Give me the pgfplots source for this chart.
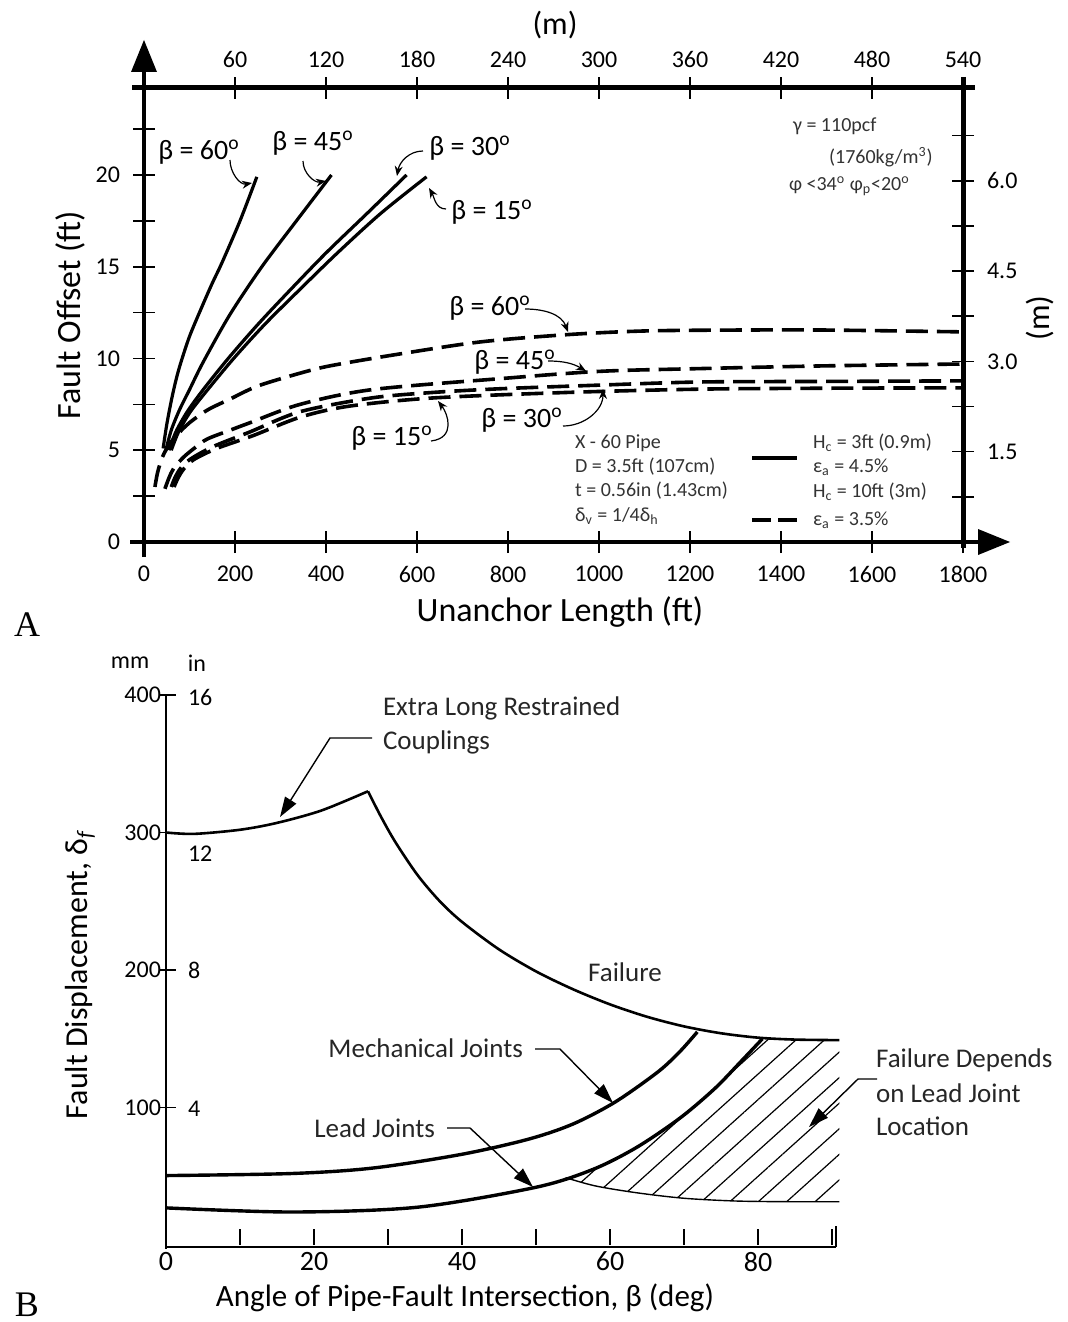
\documentclass[border=0pt]{standalone}
\usepackage{fontspec}
\setmainfont{Carlito}
\newfontfamily\serif{Liberation Serif}
\usepackage{pgfplots}
\pgfplotsset{compat=1.18}
\usetikzlibrary{arrows.meta,patterns.meta}

\newcommand{\fs}[1]{\fontsize{#1}{#1}\selectfont}
\newcommand{\dg}{\textsuperscript{o}}

\begin{document}
\begin{tikzpicture}
\path[use as bounding box] (0,0) rectangle (533.5pt,-661pt);

% ---------------- panel A ----------------
\begin{axis}[
    at={(72pt,-271pt)}, anchor=south west, scale only axis,
    width=409.5pt, height=227pt,
    xmin=0, xmax=1800, ymin=0, ymax=24.74,
    axis line style={draw=none}, clip=false,
    xtick={0,200,...,1800}, xtick pos=left,
    ytick={0,5,...,20}, minor ytick={2.5,7.5,12.5,17.5,22.5}, ytick pos=left,
    tick align=center, major tick length=11pt, minor tick length=11pt,
    tick style={black, line width=0.8pt},
    tick label style={font=\fs{12}},
    xticklabel style={yshift=-3pt},
    yticklabel style={xshift=-3pt},
    /pgf/number format/assume math mode=true,
    /pgf/number format/1000 sep={},
]
% Hc = 3 ft, solid
\addplot[black, line width=1.6pt, smooth] coordinates {
(42,5.1) (50,6.4) (60,7.7) (70,8.8) (80,9.7) (100,11.2) (127,12.8) (150,14.1) (171,15.2) (211,17.5) (248,19.9)
};
\addplot[black, line width=1.6pt, smooth] coordinates {
(48,5.0) (60,6.1) (78,7.2) (100,8.3) (130,9.8) (189,12.4) (259,15.0) (335,17.5) (412,20)
};
\addplot[black, line width=1.6pt, smooth] coordinates {
(55,5.0) (70,6.0) (95,7.1) (130,8.3) (185,10.0) (250,11.85) (320,13.7) (400,15.75) (490,17.9) (577,20)
};
\addplot[black, line width=1.6pt, smooth] coordinates {
(60,5.0) (76,6.0) (102,7.1) (140,8.3) (197,10.0) (265,11.85) (340,13.7) (425,15.75) (520,17.9) (621,19.9)
};
% Hc = 10 ft, dashed
\addplot[black, line width=1.8pt, smooth, dash pattern=on 11pt off 4.5pt] coordinates {
(24,3.0) (30,3.8) (40,4.6) (55,5.3) (75,5.9) (100,6.5) (140,7.2) (190,7.8) (250,8.5) (343,9.2) (409,9.6) (550,10.2) (738,10.9) (930,11.3) (1100,11.5) (1300,11.55) (1500,11.55) (1800,11.45)
};
\addplot[black, line width=1.8pt, smooth, dash pattern=on 11pt off 4.5pt] coordinates {
(46,2.9) (55,3.5) (65,4.0) (86,4.6) (110,5.1) (138,5.6) (190,6.1) (233,6.5) (343,7.5) (500,8.3) (782,8.9) (1002,9.3) (1222,9.45) (1500,9.6) (1800,9.7)
};
\addplot[black, line width=1.8pt, smooth, dash pattern=on 11pt off 4.5pt] coordinates {
(60,3.0) (68,3.5) (80,4.0) (101,4.5) (152,5.2) (233,6.0) (343,7.1) (500,7.85) (635,8.15) (782,8.35) (1002,8.55) (1222,8.72) (1500,8.75) (1800,8.78)
};
\addplot[black, line width=1.8pt, smooth, dash pattern=on 11pt off 4.5pt] coordinates {
(66,3.0) (75,3.5) (88,4.0) (110,4.5) (160,5.1) (240,5.8) (343,6.8) (450,7.4) (635,7.85) (930,8.15) (1222,8.33) (1500,8.38) (1800,8.4)
};
\end{axis}

% top and right scales (m)
\begin{axis}[
    at={(72pt,-271pt)}, anchor=south west, scale only axis,
    width=409.5pt, height=227pt,
    xmin=0, xmax=1800, ymin=0, ymax=24.74,
    axis line style={draw=none},
    xtick={200,400,...,1800}, xticklabels={60,120,180,240,300,360,420,480,540},
    xtick pos=right, xticklabel pos=right,
    ytick={4.921,9.843,14.764,19.685}, yticklabels={1.5,3.0,4.5,6.0},
    minor ytick={2.461,7.382,12.303,17.224,22.145},
    ytick pos=right, yticklabel pos=right,
    tick align=center, major tick length=11pt, minor tick length=11pt,
    tick style={black, line width=0.8pt},
    tick label style={font=\fs{12}},
    xticklabel style={yshift=1pt},
    yticklabel style={xshift=3pt},
    /pgf/number format/assume math mode=true,
]
\addplot[draw=none] coordinates {(0,0)};
\end{axis}

\begin{scope}[x=0.5pt, y=-0.5pt]
% frame and arrows
\draw[line width=2.2pt] (144,557) -- (144,62);
\fill (144,40) -- (131,72) -- (157,72) -- cycle;
\draw[line width=2.2pt] (130,542) -- (982,542);
\fill (1010,542) -- (978,529) -- (978,555) -- cycle;
\draw[line width=2.5pt] (132,88) -- (975,88);
\draw[line width=2.5pt] (963,77) -- (963,548);

\node[font=\fs{16}] at (555,25) {(m)};
\node[font=\fs{17}, rotate=90] at (70,315) {Fault Offset (ft)};
\node[font=\fs{17}] at (560,612) {Unanchor Length (ft)};
\node[font=\fs{16}, rotate=90] at (1040,318) {(m)};
\node[font=\serif\fs{18}] at (27,625) {A};

% curve labels
\begin{scope}[font=\fs{14}, -{Stealth[length=5pt,width=4pt]}, line width=0.6pt]
\node at (199,152) {β = 60\dg};
\draw (230,160) to[out=-90,in=190] (252,183);
\node at (313,143) {β = 45\dg};
\draw (303,161) to[out=-90,in=190] (326,181);
\node at (470,148) {β = 30\dg};
\draw (423,151) to[out=180,in=80] (397,176);
\node at (492,212) {β = 15\dg};
\draw (446,209) to[out=180,in=-60] (429,188);
\node at (490,308) {β = 60\dg};
\draw (525,309) to[out=0,in=110] (568,332);
\node at (515,362) {β = 45\dg};
\draw (548,361) to[out=0,in=150] (586,371);
\node at (522,420) {β = 30\dg};
\draw (563,426) to[out=0,in=-90] (603,389);
\node at (392,438) {β = 15\dg};
\draw (431,441) .. controls (456,438) and (448,414) .. (438,401);
\end{scope}

% property notes
\begin{scope}[font=\fs{10}, black!80]
\node[anchor=west] at (786,126) {γ = 110pcf};
\node[anchor=west] at (822,157) {(1760kg/m\textsuperscript{3})};
\node[anchor=west] at (782,186) {φ <34\dg{} φ\textsubscript{p}<20\dg};
\node[anchor=west] at (568,443) {X - 60 Pipe};
\node[anchor=west] at (568,467) {D = 3.5ft (107cm)};
\node[anchor=west] at (568,491) {t = 0.56in (1.43cm)};
\node[anchor=west] at (568,516) {δ\textsubscript{v} = 1/4δ\textsubscript{h}};
\node[anchor=west] at (806,443) {H\textsubscript{c} = 3ft (0.9m)};
\node[anchor=west] at (806,467) {ε\textsubscript{a} = 4.5\%};
\node[anchor=west] at (806,492) {H\textsubscript{c} = 10ft (3m)};
\node[anchor=west] at (806,520) {ε\textsubscript{a} = 3.5\%};
\end{scope}
\draw[line width=2.2pt] (752,458) -- (797,458);
\draw[line width=2.2pt, dash pattern=on 9.5pt off 3.5pt] (752,520) -- (797,520);
\end{scope}

% ---------------- panel B ----------------
\begin{axis}[
    at={(83pt,-622.5pt)}, anchor=south west, scale only axis,
    width=333pt, height=275pt,
    xmin=0, xmax=90, ymin=0, ymax=400,
    axis line style={draw=none}, clip=false,
    xtick={0,10,...,90}, xticklabels={0,,20,,40,,60,,80,}, xtick pos=left,
    ytick={100,200,300,400}, ytick pos=left,
    tick align=inside, major tick length=8pt,
    x tick style={black, line width=0.8pt},
    y tick style={black, line width=0.8pt, xshift=-3pt},
    xticklabel style={font=\fs{14}},
    yticklabel style={font=\fs{12}, xshift=1pt},
    /pgf/number format/assume math mode=true,
]
% hatched zone: failure depends on lead joint location
\addplot[pattern={Lines[angle=42,distance=9.5pt,line width=0.6pt]}, draw=none] coordinates {
(54,49) (57.7,55) (63.6,71) (69.5,92.5) (74.2,114) (77.7,133.5) (80.6,150) (86,149.3) (91,149)
(91,31.5) (84,31.5) (77,32) (70,34) (63.6,38) (58,43) (54,49)
} -- cycle;
% Failure (extra long restrained couplings)
\addplot[black, line width=1.3pt, smooth] coordinates {
(0,300) (3.8,299) (10,302) (15,307) (21,316) (27.3,330)
};
\addplot[black, line width=1.3pt, smooth] coordinates {
(27.3,330) (29,312) (31,293) (34,269) (37,250) (40,235) (45,215) (50,199) (55,186) (60,175) (65,166) (70,159) (75,154) (80,150.8) (85,149.4) (91,149)
};
% Mechanical joints
\addplot[black, line width=1.7pt, smooth] coordinates {
(0,50.5) (17,52) (28,56) (40,66) (49,77) (55,88) (60.7,104) (66.5,126) (69.5,141) (71.8,155)
};
% Lead joints
\addplot[black, line width=1.7pt, smooth] coordinates {
(0,27) (17,24) (34,27.5) (50,42) (57.7,55) (63.6,71) (69.5,92.5) (74.2,114) (77.7,133.5) (80.6,150)
};
% lower bound of the hatched zone
\addplot[black, line width=0.7pt, smooth] coordinates {
(54,49) (58,43) (63.6,38) (70,34) (77,32) (84,31.5) (91,31.5)
};
\end{axis}

\begin{scope}[x=0.5pt, y=-0.5pt]
\draw[line width=1.4pt] (166,695) -- (166,1249);
\draw[line width=1.4pt] (166,1247) -- (836,1247);
\draw[line width=1pt] (836,1247) -- (836,1226);
\begin{scope}[font=\fs{12}]
\node at (130,663) {mm};
\node at (197,663) {in};
\node[anchor=west] at (181,697) {16};
\node[anchor=west] at (181,854) {12};
\node[anchor=west] at (181,970) {8};
\node[anchor=west] at (181,1109) {4};
\end{scope}
\node[font=\fs{16}, rotate=90] at (80,975) {Fault Displacement, δ\textsubscript{\itshape f}};
\node[font=\fs{15.5}] at (465,1298) {Angle of Pipe-Fault Intersection, β (deg)};
\node[font=\serif\fs{18}] at (27,1305) {B};

\begin{scope}[font=\fs{13.5}, black!85]
\node[anchor=west] at (376,708) {Extra Long Restrained};
\node[anchor=west] at (376,742) {Couplings};
\node at (625,972) {Failure};
\node[anchor=east] at (530,1048) {Mechanical Joints};
\node[anchor=east] at (442,1128) {Lead Joints};
\node[anchor=west] at (869,1060) {Failure Depends};
\node[anchor=west] at (869,1093) {on Lead Joint};
\node[anchor=west] at (869,1126) {Location};
\end{scope}
\begin{scope}[line width=0.7pt, -{Triangle[length=10pt,width=6.5pt]}]
\draw (372,738) -- (330,738) -- (280,817);
\draw (535,1049) -- (560,1049) -- (613,1103);
\draw (447,1128) -- (470,1128) -- (533,1187);
\draw (877,1079) -- (858,1079) -- (809,1127);
\end{scope}
\end{scope}

\end{tikzpicture}
\end{document}
